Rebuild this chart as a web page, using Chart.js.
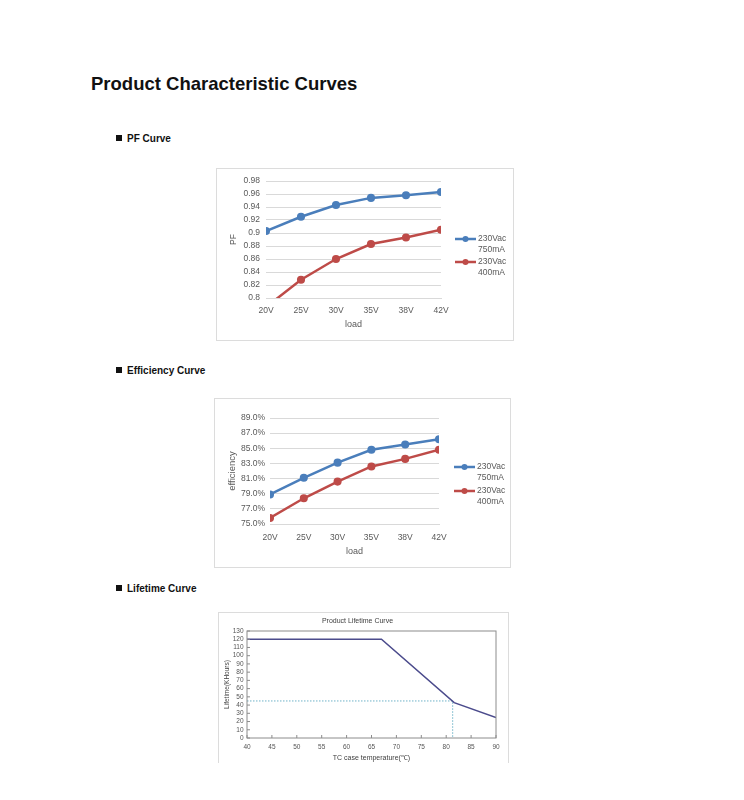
<!DOCTYPE html>
<html>
<head>
<meta charset="utf-8">
<script src="https://cdn.jsdelivr.net/npm/chart.js@4.4.1/dist/chart.umd.min.js"></script>
<style>
  body { margin: 0; background: #fff; font-family: "Liberation Sans", Arial, sans-serif; }
  .page { position: relative; width: 744px; height: 800px; }
  h1 { position: absolute; left: 91px; top: 73px; margin: 0; font-size: 18.5px; font-weight: bold; color: #111; }
  .sec { position: absolute; left: 116px; margin: 0; font-size: 10px; font-weight: bold; color: #111; }
  .sec::before { content: ""; display: inline-block; width: 6px; height: 6px; background: #111; margin-right: 5px; vertical-align: 1px; }
  .box { position: absolute; border: 1px solid #dcdcdc; background: #fff; box-sizing: border-box; }
  canvas { display: block; }
</style>
</head>
<body>
<div class="page">
  <h1>Product Characteristic Curves</h1>
  <div class="sec" style="top:133px">PF Curve</div>
  <div class="box" style="left:216px;top:168px;width:298px;height:173px"><canvas id="pf" width="296" height="171"></canvas></div>
  <div class="sec" style="top:365px">Efficiency Curve</div>
  <div class="box" style="left:214px;top:398px;width:297px;height:170px"><canvas id="eff" width="295" height="168"></canvas></div>
  <div class="sec" style="top:583px">Lifetime Curve</div>
  <div class="box" style="left:218px;top:612px;width:291px;height:151px;border-bottom:none"><canvas id="life" width="289" height="150"></canvas></div>
</div>
<script>
// load points shared by PF and efficiency charts
const loads = ["20V", "25V", "30V", "35V", "38V", "42V"];
const seriesNames = ["230Vac\n750mA", "230Vac\n400mA"];

const pf750 = [0.903, 0.925, 0.943, 0.954, 0.958, 0.963];
const pf400 = [0.786, 0.828, 0.860, 0.883, 0.893, 0.905];
const pfTicks = [0.8, 0.82, 0.84, 0.86, 0.88, 0.9, 0.92, 0.94, 0.96, 0.98];

const eff750 = [78.9, 81.1, 83.1, 84.8, 85.5, 86.2];
const eff400 = [75.8, 78.4, 80.6, 82.6, 83.6, 84.8];
const effTicks = [75, 77, 79, 81, 83, 85, 87, 89];

// lifetime curve (TC case temp, kHours)
const lifeTemps = [40, 67, 81.6, 90];
const lifeHours = [120, 120, 43, 25];
const refTemp = 81.3;
const refHours = 45;
const lifeXTicks = [40, 45, 50, 55, 60, 65, 70, 75, 80, 85, 90];
const lifeYTicks = [0, 10, 20, 30, 40, 50, 60, 70, 80, 90, 100, 110, 120, 130];

const BLUE = "#4a7ebb";
const RED = "#be4b48";
const GRID = "#d9d9d9";
const TXT = "#595959";
const FONT = "'Liberation Sans', Arial, sans-serif";

// legend with line + dot, text split on \n
const lineLegend = {
  id: "lineLegend",
  afterDraw(chart, args, opts) {
    const ctx = chart.ctx;
    ctx.save();
    chart.data.datasets.forEach((ds, i) => {
      const y = opts.y + i * opts.gap;
      ctx.strokeStyle = ds.borderColor;
      ctx.lineWidth = 2.5;
      ctx.beginPath();
      ctx.moveTo(opts.x, y);
      ctx.lineTo(opts.x + 21, y);
      ctx.stroke();
      ctx.fillStyle = ds.borderColor;
      ctx.beginPath();
      ctx.arc(opts.x + 10.5, y, 3, 0, Math.PI * 2);
      ctx.fill();
      ctx.fillStyle = TXT;
      ctx.font = "8.5px " + FONT;
      ctx.textBaseline = "middle";
      ds.label.split("\n").forEach((t, j) => ctx.fillText(t, opts.x + 23, y + j * 11));
    });
    ctx.restore();
  }
};

function lineChart(id, labels, data, ticks, fmt, yTitle, yTitleSize, lay) {
  new Chart(document.getElementById(id), {
    type: "line",
    data: {
      labels: labels,
      datasets: data.map((d, i) => ({
        label: seriesNames[i],
        data: d,
        borderColor: i ? RED : BLUE,
        backgroundColor: i ? RED : BLUE,
        borderWidth: 2.5,
        pointRadius: 2.8,
        pointHoverRadius: 2.8,
        tension: 0,
        clip: 0
      }))
    },
    options: {
      responsive: false,
      animation: false,
      layout: { padding: { top: lay.top, right: lay.right, left: 0, bottom: 0 } },
      plugins: { legend: { display: false }, tooltip: { enabled: false }, lineLegend: lay.legend },
      scales: {
        x: {
          offset: false,
          grid: { display: false, drawTicks: false },
          border: { color: GRID },
          ticks: { color: TXT, font: { size: 8.5, family: FONT }, padding: lay.xPad, maxRotation: 0, autoSkip: false },
          title: { display: true, text: "load", color: TXT, font: { size: 9, family: FONT }, padding: { top: 0, bottom: lay.xTitlePad } },
          afterFit: s => { s.height = lay.xH; }
        },
        y: {
          min: ticks[0],
          max: ticks[ticks.length - 1],
          afterBuildTicks: s => { s.ticks = ticks.map(v => ({ value: v })); },
          grid: { color: GRID, drawTicks: false },
          border: { display: false },
          ticks: { color: TXT, font: { size: 8.5, family: FONT }, padding: lay.yPad, callback: fmt, autoSkip: false },
          title: { display: true, text: yTitle, color: TXT, font: { size: yTitleSize, family: FONT }, padding: { top: lay.yTitlePad, bottom: 0 } },
          afterFit: s => { s.width = lay.yW; }
        }
      }
    },
    plugins: [lineLegend]
  });
}

lineChart("pf", loads, [pf750, pf400], pfTicks, v => String(+v.toFixed(2)), "PF", 8.5,
  { top: 12, right: 72, yW: 49, xH: 42, xPad: 8, yPad: 6, xTitlePad: 10.5, yTitlePad: 11.5,
    legend: { x: 238, y: 70, gap: 23 } });

lineChart("eff", loads, [eff750, eff400], effTicks, v => v.toFixed(1) + "%", "efficiency", 9.5,
  { top: 19, right: 71, yW: 55, xH: 43, xPad: 8.5, yPad: 5, xTitlePad: 10.5, yTitlePad: 12,
    legend: { x: 239, y: 68, gap: 24 } });

// plot frame + inward tick marks for the lifetime chart
const frame = {
  id: "frame",
  afterDatasetsDraw(chart) {
    const { ctx, chartArea: a, scales } = chart;
    ctx.save();
    ctx.strokeStyle = "#8c8c8c";
    ctx.lineWidth = 1;
    ctx.strokeRect(a.left, a.top, a.right - a.left, a.bottom - a.top);
    ctx.beginPath();
    scales.x.ticks.forEach(t => {
      const x = scales.x.getPixelForValue(t.value);
      ctx.moveTo(x, a.bottom); ctx.lineTo(x, a.bottom - 3);
    });
    scales.y.ticks.forEach(t => {
      const y = scales.y.getPixelForValue(t.value);
      ctx.moveTo(a.left, y); ctx.lineTo(a.left + 3, y);
    });
    ctx.stroke();
    ctx.restore();
  }
};

new Chart(document.getElementById("life"), {
  type: "line",
  data: {
    datasets: [
      {
        data: lifeTemps.map((t, i) => ({ x: t, y: lifeHours[i] })),
        borderColor: "#4b4b8c",
        borderWidth: 1.5,
        pointRadius: 0,
        tension: 0
      },
      {
        data: [{ x: lifeTemps[0], y: refHours }, { x: refTemp, y: refHours }, { x: refTemp, y: 0 }],
        borderColor: "#6fb3c8",
        borderWidth: 1,
        borderDash: [1.5, 1.5],
        pointRadius: 0,
        tension: 0
      }
    ]
  },
  options: {
    responsive: false,
    animation: false,
    layout: { padding: { top: 0, right: 12, left: 0, bottom: 0 } },
    plugins: {
      legend: { display: false },
      tooltip: { enabled: false },
      title: { display: true, text: "Product Lifetime Curve", color: "#404040", font: { size: 7, family: FONT, weight: "normal" }, padding: { top: 3.8, bottom: 5.8 } }
    },
    scales: {
      x: {
        type: "linear",
        min: 40, max: 90,
        afterBuildTicks: s => { s.ticks = lifeXTicks.map(v => ({ value: v })); },
        grid: { display: false, drawTicks: false },
        border: { display: false },
        ticks: { color: "#555", font: { size: 6.5, family: FONT }, padding: 5, maxRotation: 0, autoSkip: false },
        title: { display: true, text: "TC case temperature(℃)", color: "#404040", font: { size: 7, family: FONT }, padding: { top: 0, bottom: 1 } },
        afterFit: s => { s.height = 25; }
      },
      y: {
        min: 0, max: 130,
        afterBuildTicks: s => { s.ticks = lifeYTicks.map(v => ({ value: v })); },
        grid: { display: false, drawTicks: false },
        border: { display: false },
        ticks: { color: "#555", font: { size: 6.5, family: FONT }, padding: 3.5, autoSkip: false },
        title: { display: true, text: "Lifetime(KHours)", color: "#404040", font: { size: 6.5, family: FONT }, padding: { top: 4, bottom: 0 } },
        afterFit: s => { s.width = 28; }
      }
    }
  },
  plugins: [frame]
});
</script>
</body>
</html>
